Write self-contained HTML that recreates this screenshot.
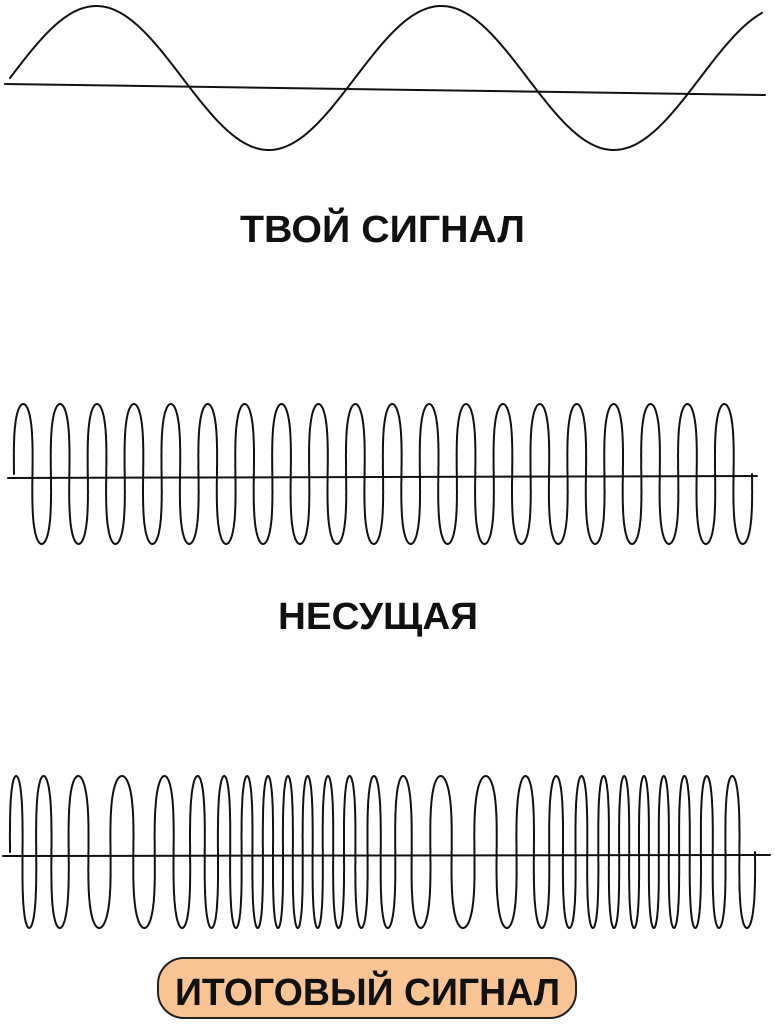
<!DOCTYPE html>
<html><head><meta charset="utf-8"><style>
html,body{margin:0;padding:0;background:#fff;}
svg{display:block;}
text{font-family:"Liberation Sans","DejaVu Sans",sans-serif;font-weight:bold;fill:#111;}
</style></head><body>
<svg id="s" width="775" height="1024" viewBox="0 0 775 1024">
<g fill="none" stroke="#111" stroke-width="2" stroke-linecap="round">
<path d="M5 84 L765 95"/>
<path id="w1"/>
<path d="M8 478 L757 476"/>
<path id="w2"/>
<path d="M3 856 L770 855"/>
<path id="w3"/>
</g>
<text x="240" y="242" font-size="38" textLength="285" lengthAdjust="spacingAndGlyphs">ТВОЙ  СИГНАЛ</text>
<text x="278" y="629" font-size="38" textLength="200" lengthAdjust="spacingAndGlyphs">НЕСУЩАЯ</text>
<rect x="158" y="958" width="418" height="60" rx="26" fill="#f8c494" stroke="#222" stroke-width="2"/>
<text x="175" y="1005" font-size="38" textLength="385" lengthAdjust="spacingAndGlyphs">ИТОГОВЫЙ  СИГНАЛ</text>
</svg>
<script>
function pth(pts){return "M"+pts.map(p=>p[0].toFixed(1)+" "+p[1].toFixed(1)).join(" L");}
var p=[];
for(var x=10;x<=762;x+=2){var y=78-72*Math.sin((x-10)/345*2*Math.PI);p.push([x,y]);}
document.getElementById("w1").setAttribute("d",pth(p));
function loops(x0,x1,yc,amp,phases,k){
 var q=[],N=phases.length-1;
 for(var i=0;i<=N;i++){var u=i/N;var ph=phases[i];
  var a=Math.max(0,i-1),b=Math.min(N,i+1);
  var drift=(x1-x0)*(b-a)/N/(phases[b]-phases[a]);
  var xb=x0+(x1-x0)*u;
  q.push([xb-k*drift/2*Math.sin(2*ph),yc-amp*Math.sin(ph)]);}
 return q;}
var N=6000,ph2=[];
for(var i=0;i<=N;i++)ph2.push(i/N*20*2*Math.PI);
document.getElementById("w2").setAttribute("d",pth(loops(14,752,474,70,ph2,1.15)));
var ph3=[0],acc=0,fr=[];
for(var i=0;i<=N;i++){var u=i/N;fr.push(1+0.4*Math.cos(2*Math.PI*(u-0.38)/0.47));}
var tot=0;for(var i=1;i<=N;i++)tot+=(fr[i]+fr[i-1])/2;
for(var i=1;i<=N;i++){acc+=(fr[i]+fr[i-1])/2;ph3.push(acc/tot*27*2*Math.PI);}
document.getElementById("w3").setAttribute("d",pth(loops(10,755,852,76,ph3,1.1)));
</script>
</body></html>
